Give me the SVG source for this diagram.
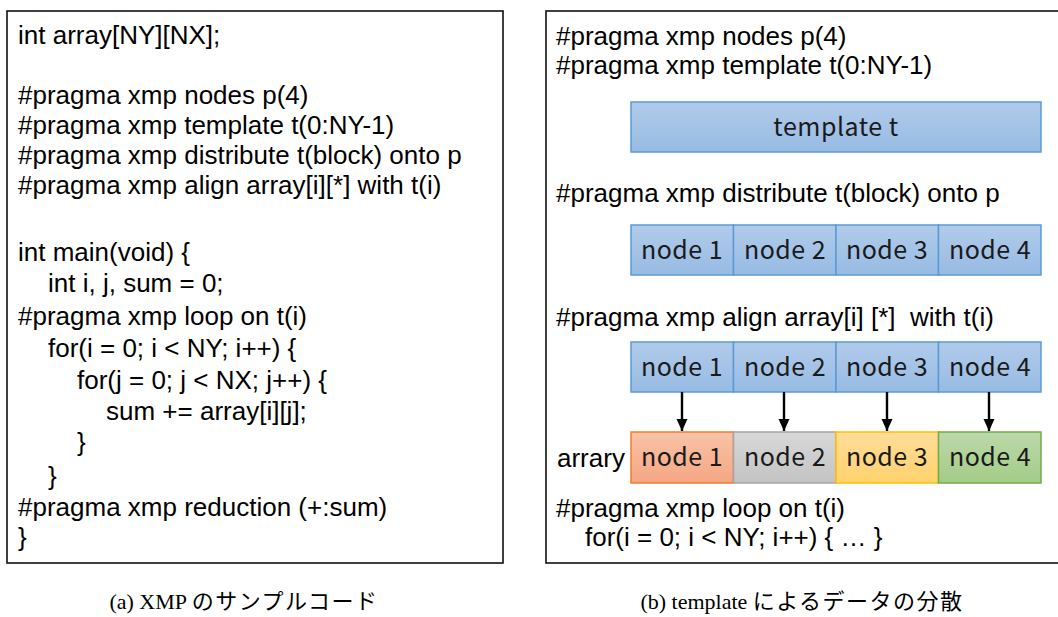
<svg xmlns="http://www.w3.org/2000/svg" width="1058" height="617" viewBox="0 0 1058 617">
<style>
.code{font-family:"Liberation Sans",Arial,sans-serif;font-size:26px;fill:#000;white-space:pre}
.lbl{font-family:"Noto Sans CJK JP","Noto Sans",sans-serif;font-size:25px;fill:#1a1a1a;text-anchor:middle;letter-spacing:0.5px}
.cap{font-family:"Liberation Serif","Noto Sans CJK JP",serif;font-size:22px;fill:#000;text-anchor:middle}
.kana{letter-spacing:1.5px}
.panel{fill:#fff;stroke:#111;stroke-width:1.6}
.blue{fill:url(#gBlue);stroke:#5b9bd5;stroke-width:1.5}
.orange{fill:url(#gOrange);stroke:#ed7d31;stroke-width:1.5}
.gray{fill:url(#gGray);stroke:#a5a5a5;stroke-width:1.5}
.yellow{fill:url(#gYellow);stroke:#ffc000;stroke-width:1.5}
.green{fill:url(#gGreen);stroke:#70ad47;stroke-width:1.5}
.arrow{stroke:#000;stroke-width:2.4;fill:none;marker-end:url(#ah)}
</style>
<defs>
<linearGradient id="gBlue" x1="0" y1="0" x2="0" y2="1"><stop offset="0" stop-color="#b1cbea"/><stop offset="1" stop-color="#97bbe4"/></linearGradient>
<linearGradient id="gOrange" x1="0" y1="0" x2="0" y2="1"><stop offset="0" stop-color="#f9c3a8"/><stop offset="1" stop-color="#f5a683"/></linearGradient>
<linearGradient id="gGray" x1="0" y1="0" x2="0" y2="1"><stop offset="0" stop-color="#d8d8d8"/><stop offset="1" stop-color="#c3c3c3"/></linearGradient>
<linearGradient id="gYellow" x1="0" y1="0" x2="0" y2="1"><stop offset="0" stop-color="#ffdc9a"/><stop offset="1" stop-color="#ffd26d"/></linearGradient>
<linearGradient id="gGreen" x1="0" y1="0" x2="0" y2="1"><stop offset="0" stop-color="#bcd9a9"/><stop offset="1" stop-color="#a3cc87"/></linearGradient>
<marker id="ah" markerWidth="14" markerHeight="14" refX="12" refY="6" orient="auto" markerUnits="userSpaceOnUse">
<path d="M0,0.5 L12,6 L0,11.5 Z" fill="#000"/>
</marker>
</defs>
<rect width="1058" height="617" fill="#fff"/>

<g id="code-panel">
<rect class="panel" x="7" y="11" width="496" height="552"/>
<text class="code" x="18" y="43.5">int array[NY][NX];</text>
<text class="code" x="18" y="103.5">#pragma xmp nodes p(4)</text>
<text class="code" x="18" y="133.5">#pragma xmp template t(0:NY-1)</text>
<text class="code" x="18" y="163.5">#pragma xmp distribute t(block) onto p</text>
<text class="code" x="18" y="193.5">#pragma xmp align array[i][*] with t(i)</text>
<text class="code" x="18" y="260.5">int main(void) {</text>
<text class="code" x="48" y="291.5">int i, j, sum = 0;</text>
<text class="code" x="18" y="325">#pragma xmp loop on t(i)</text>
<text class="code" x="48" y="356.5">for(i = 0; i &lt; NY; i++) {</text>
<text class="code" x="77" y="388.5">for(j = 0; j &lt; NX; j++) {</text>
<text class="code" x="106" y="420">sum += array[i][j];</text>
<text class="code" x="77" y="451">}</text>
<text class="code" x="48" y="485">}</text>
<text class="code" x="18" y="515.5">#pragma xmp reduction (+:sum)</text>
<text class="code" x="18" y="546">}</text>
</g>

<g id="template-panel">
<rect class="panel" x="546" y="11" width="520" height="552"/>
<text class="code" x="556" y="44.5">#pragma xmp nodes p(4)</text>
<text class="code" x="556" y="73.5">#pragma xmp template t(0:NY-1)</text>
<text class="code" x="556" y="201.5">#pragma xmp distribute t(block) onto p</text>
<text class="code" x="556" y="325.5">#pragma xmp align array[i] [*]  with t(i)</text>
<text class="code" x="557" y="467">arrary</text>
<text class="code" x="556" y="516.5">#pragma xmp loop on t(i)</text>
<text class="code" x="585" y="545.5">for(i = 0; i &lt; NY; i++) { … }</text>
</g>

<g id="template-t">
<rect class="blue" x="631" y="102" width="410" height="50"/>
<text class="lbl" x="836" y="135.5">template t</text>
</g>

<g id="dist-node1"><rect class="blue" x="631" y="225" width="102.5" height="50"/><text class="lbl" x="682" y="258.5">node 1</text></g>
<g id="dist-node2"><rect class="blue" x="733.5" y="225" width="102.5" height="50"/><text class="lbl" x="785" y="258.5">node 2</text></g>
<g id="dist-node3"><rect class="blue" x="836" y="225" width="102.5" height="50"/><text class="lbl" x="887" y="258.5">node 3</text></g>
<g id="dist-node4"><rect class="blue" x="938.5" y="225" width="102.5" height="50"/><text class="lbl" x="990" y="258.5">node 4</text></g>

<g id="align-node1"><rect class="blue" x="631" y="342" width="102.5" height="50"/><text class="lbl" x="682" y="375.5">node 1</text></g>
<g id="align-node2"><rect class="blue" x="733.5" y="342" width="102.5" height="50"/><text class="lbl" x="785" y="375.5">node 2</text></g>
<g id="align-node3"><rect class="blue" x="836" y="342" width="102.5" height="50"/><text class="lbl" x="887" y="375.5">node 3</text></g>
<g id="align-node4"><rect class="blue" x="938.5" y="342" width="102.5" height="50"/><text class="lbl" x="990" y="375.5">node 4</text></g>

<g id="array-node1"><rect class="orange" x="631" y="432" width="102.5" height="51"/><text class="lbl" x="682" y="465.5">node 1</text></g>
<g id="array-node2"><rect class="gray" x="733.5" y="432" width="102.5" height="51"/><text class="lbl" x="785" y="465.5">node 2</text></g>
<g id="array-node3"><rect class="yellow" x="836" y="432" width="102.5" height="51"/><text class="lbl" x="887" y="465.5">node 3</text></g>
<g id="array-node4"><rect class="green" x="938.5" y="432" width="102.5" height="51"/><text class="lbl" x="990" y="465.5">node 4</text></g>

<g id="connectors">
<line class="arrow" x1="682" y1="392" x2="682" y2="431"/>
<line class="arrow" x1="784" y1="392" x2="784" y2="431"/>
<line class="arrow" x1="887" y1="392" x2="887" y2="431"/>
<line class="arrow" x1="989" y1="392" x2="989" y2="431"/>
</g>

<g id="captions">
<text class="cap" x="244" y="609">(a) XMP <tspan class="kana">のサンプルコード</tspan></text>
<text class="cap" x="802" y="609">(b) template <tspan class="kana">によるデータの分散</tspan></text>
</g>
</svg>
